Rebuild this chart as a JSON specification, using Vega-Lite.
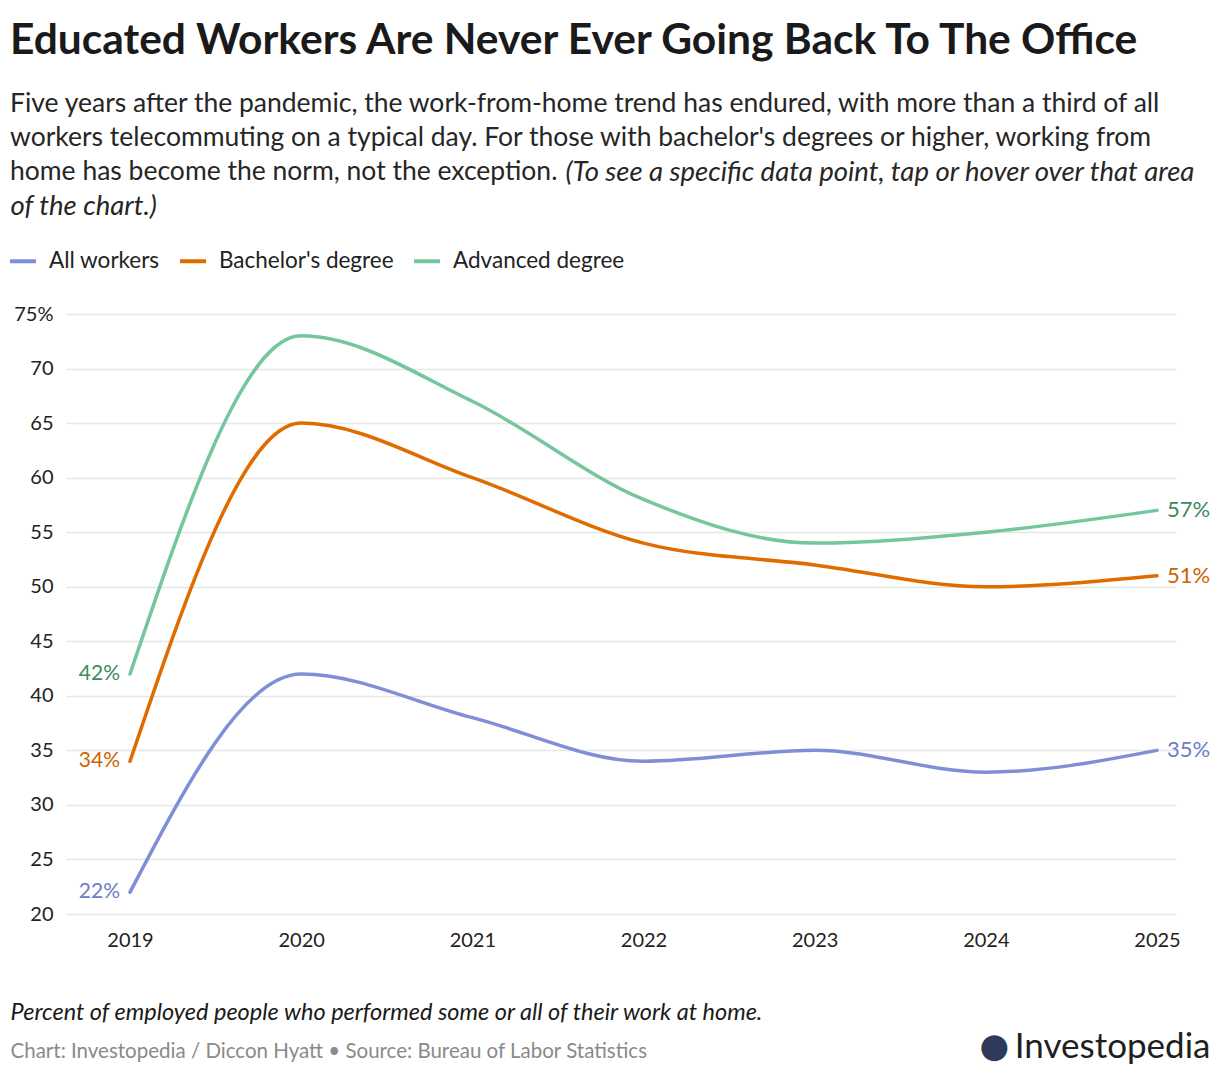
{
  "$schema": "https://vega.github.io/schema/vega-lite/v6.json",
  "width": 1110,
  "height": 600,
  "autosize": {"type": "none"},
  "padding": {"left": 66, "top": 314, "right": 44, "bottom": 160},
  "background": "white",
  "config": {
    "font": "Lato",
    "view": {"stroke": null}
  },
  "title": {
    "text": "Educated Workers Are Never Ever Going Back To The Office",
    "subtitle": [
      "Five years after the pandemic, the work-from-home trend has endured, with more than a third of all",
      "workers telecommuting on a typical day. For those with bachelor's degrees or higher, working from",
      "home has become the norm, not the exception."
    ],
    "anchor": "start",
    "frame": "group",
    "dx": -56,
    "offset": -27,
    "font": "Lato",
    "fontSize": 42.5,
    "fontWeight": "bold",
    "color": "#1a1a1a",
    "subtitleFont": "Lato",
    "subtitleFontSize": 26.5,
    "subtitleColor": "#262626",
    "subtitleLineHeight": 34,
    "subtitlePadding": 28
  },
  "data": {
    "values": [
      {"year": 2019, "group": "All workers", "value": 22},
      {"year": 2020, "group": "All workers", "value": 42},
      {"year": 2021, "group": "All workers", "value": 38},
      {"year": 2022, "group": "All workers", "value": 34},
      {"year": 2023, "group": "All workers", "value": 35},
      {"year": 2024, "group": "All workers", "value": 33},
      {"year": 2025, "group": "All workers", "value": 35},
      {"year": 2019, "group": "Bachelor's degree", "value": 34},
      {"year": 2020, "group": "Bachelor's degree", "value": 65},
      {"year": 2021, "group": "Bachelor's degree", "value": 60},
      {"year": 2022, "group": "Bachelor's degree", "value": 54},
      {"year": 2023, "group": "Bachelor's degree", "value": 52},
      {"year": 2024, "group": "Bachelor's degree", "value": 50},
      {"year": 2025, "group": "Bachelor's degree", "value": 51},
      {"year": 2019, "group": "Advanced degree", "value": 42},
      {"year": 2020, "group": "Advanced degree", "value": 73},
      {"year": 2021, "group": "Advanced degree", "value": 67},
      {"year": 2022, "group": "Advanced degree", "value": 58},
      {"year": 2023, "group": "Advanced degree", "value": 54},
      {"year": 2024, "group": "Advanced degree", "value": 55},
      {"year": 2025, "group": "Advanced degree", "value": 57}
    ]
  },
  "resolve": {"axis": {"x": "independent", "y": "independent"}},
  "layer": [
    {
      "mark": {"type": "line", "interpolate": "monotone", "strokeWidth": 3.5, "strokeCap": "round"},
      "encoding": {
        "x": {
          "field": "year", "type": "quantitative",
          "scale": {"domain": [2018.626, 2025.111], "nice": false, "zero": false},
          "axis": {
            "orient": "bottom",
            "values": [2019, 2020, 2021, 2022, 2023, 2024, 2025],
            "format": "d",
            "grid": false, "domain": false, "ticks": false,
            "labelFont": "Lato", "labelFontSize": 20, "labelColor": "#222222",
            "labelPadding": 16,
            "title": "Percent of employed people who performed some or all of their work at home.",
            "titleFont": "Lato", "titleFontSize": 23.5, "titleFontStyle": "italic", "titleFontWeight": "normal",
            "titleColor": "#1a1a1a",
            "titleX": -56, "titleY": 105, "titleAlign": "left", "titleBaseline": "alphabetic", "titleAnchor": "start"
          }
        },
        "y": {
          "field": "value", "type": "quantitative",
          "scale": {"domain": [20, 75], "nice": false, "zero": false},
          "axis": {
            "orient": "left",
            "values": [20, 25, 30, 35, 40, 45, 50, 55, 60, 65, 70, 75],
            "labelExpr": "datum.value == 75 ? '75%' : datum.label",
            "grid": true, "gridColor": "#e6e6e6", "gridWidth": 1.5,
            "domain": false, "ticks": false,
            "labelFont": "Lato", "labelFontSize": 20, "labelColor": "#222222",
            "labelPadding": 13,
            "title": "Chart: Investopedia / Diccon Hyatt • Source: Bureau of Labor Statistics",
            "titleFont": "Lato", "titleFontSize": 20.5, "titleFontWeight": "normal",
            "titleColor": "#8a8a8a", "titleAngle": 0,
            "titleX": -56, "titleY": 743, "titleAlign": "left", "titleBaseline": "alphabetic"
          }
        },
        "color": {
          "field": "group", "type": "nominal",
          "scale": {
            "domain": ["All workers", "Bachelor's degree", "Advanced degree"],
            "range": ["#7f8fd6", "#e06c00", "#74c69d"]
          },
          "legend": {
            "orient": "none", "direction": "horizontal",
            "legendX": -58, "legendY": -68,
            "title": null,
            "symbolType": "stroke", "symbolStrokeWidth": 4, "symbolSize": 676,
            "labelFont": "Lato", "labelFontSize": 22.5, "labelColor": "#222222",
            "labelOffset": 11, "columnPadding": 12, "labelLimit": 400
          }
        }
      }
    },
    {
      "transform": [
        {"filter": "datum.year == 2025"},
        {"calculate": "datum.value + '%'", "as": "label"}
      ],
      "mark": {"type": "text", "align": "left", "baseline": "middle", "dx": 10, "fontSize": 22, "font": "Lato"},
      "encoding": {
        "x": {
          "field": "year", "type": "quantitative",
          "axis": {
            "orient": "bottom", "labels": false, "grid": false, "domain": false, "ticks": false,
            "title": "(To see a specific data point, tap or hover over that area",
            "titleFont": "Lato", "titleFontSize": 27.5, "titleFontStyle": "italic", "titleFontWeight": "normal",
            "titleColor": "#262626",
            "titleX": 499, "titleY": -734, "titleAlign": "left", "titleBaseline": "alphabetic"
          }
        },
        "y": {
          "field": "value", "type": "quantitative",
          "axis": {
            "orient": "left", "labels": false, "grid": false, "domain": false, "ticks": false,
            "title": "of the chart.)",
            "titleFont": "Lato", "titleFontSize": 27.5, "titleFontStyle": "italic", "titleFontWeight": "normal",
            "titleColor": "#262626", "titleAngle": 0,
            "titleX": -56, "titleY": -100, "titleAlign": "left", "titleBaseline": "alphabetic"
          }
        },
        "text": {"field": "label", "type": "nominal"},
        "fill": {
          "field": "group", "type": "nominal",
          "scale": {
            "domain": ["All workers", "Bachelor's degree", "Advanced degree"],
            "range": ["#6c7cc4", "#cc6400", "#3d8a5e"]
          },
          "legend": null
        }
      }
    },
    {
      "transform": [
        {"filter": "datum.year == 2019"},
        {"calculate": "datum.value + '%'", "as": "label"}
      ],
      "mark": {"type": "text", "align": "right", "baseline": "middle", "dx": -10, "fontSize": 21, "font": "Lato"},
      "encoding": {
        "x": {
          "field": "year", "type": "quantitative",
          "axis": {
            "orient": "bottom", "labels": false, "grid": false, "domain": false, "ticks": false,
            "title": "Investopedia",
            "titleFont": "Lato", "titleFontSize": 35, "titleFontWeight": "normal",
            "titleColor": "#1f1f1f",
            "titleX": 1144, "titleY": 143, "titleAlign": "right", "titleBaseline": "alphabetic"
          }
        },
        "y": {
          "field": "value", "type": "quantitative",
          "axis": {
            "orient": "left", "labels": false, "grid": false, "domain": false, "ticks": false,
            "title": "●",
            "titleFont": "DejaVu Sans", "titleFontSize": 34, "titleFontWeight": "normal",
            "titleColor": "#2f3a5a", "titleAngle": 0,
            "titleX": 913, "titleY": 742, "titleAlign": "left", "titleBaseline": "alphabetic"
          }
        },
        "text": {"field": "label", "type": "nominal"},
        "fill": {"field": "group", "type": "nominal", "legend": null}
      }
    }
  ]
}
